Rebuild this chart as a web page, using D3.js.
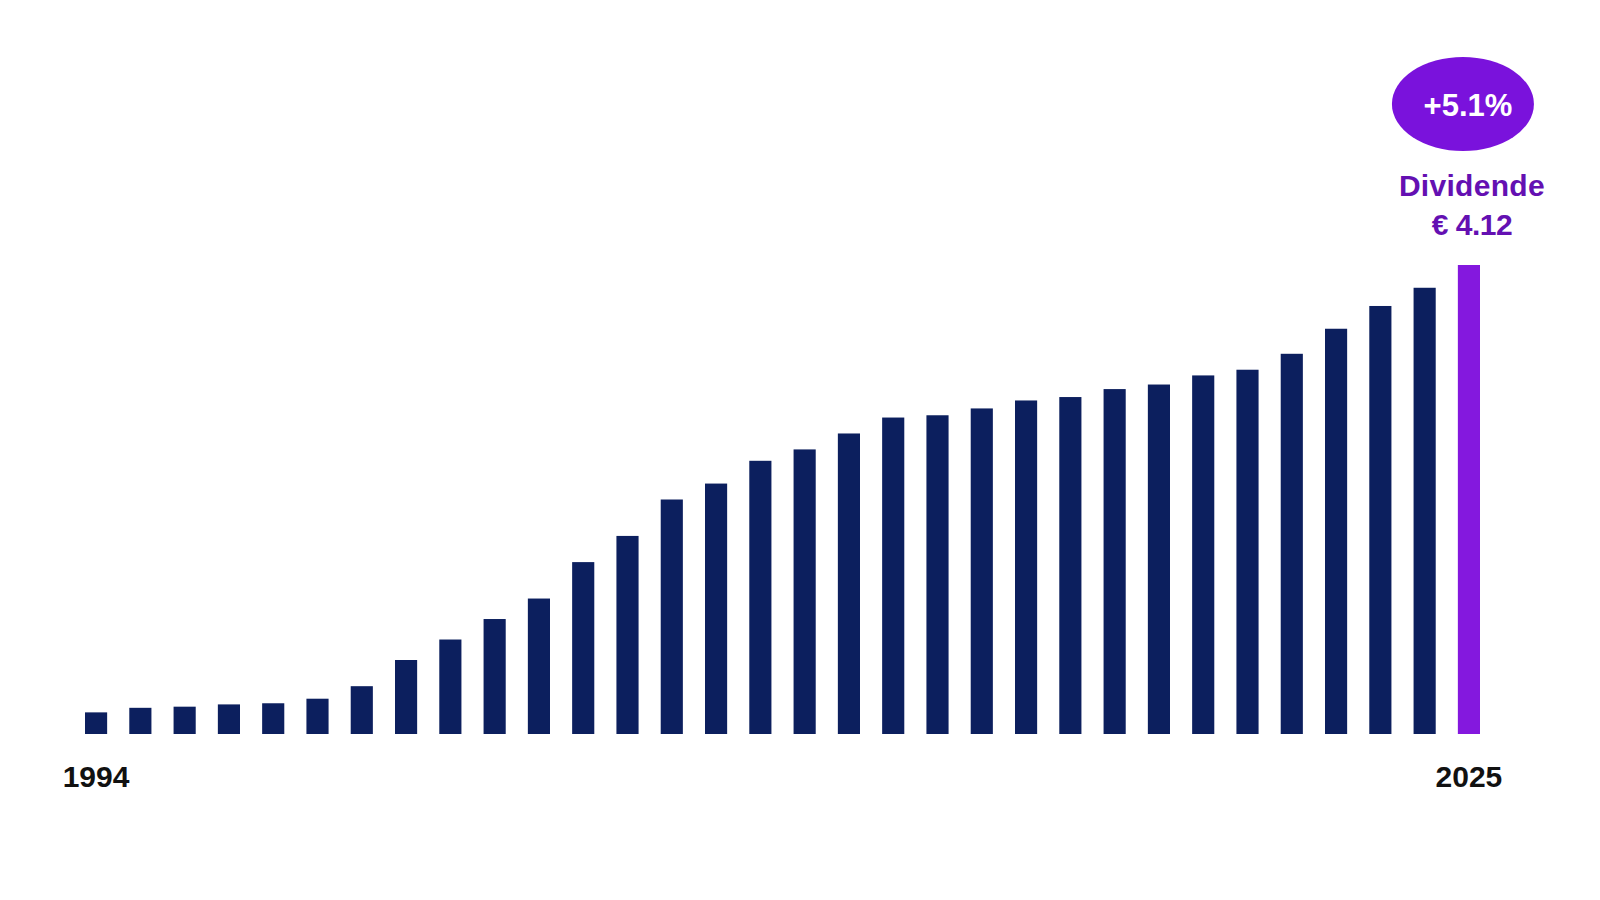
<!DOCTYPE html>
<html>
<head>
<meta charset="utf-8">
<script src="https://cdn.jsdelivr.net/npm/d3@7"></script>
<style>
  body { margin: 0; background: #fff; }
  svg { display: block; font-family: "Liberation Sans", Arial, sans-serif; }
</style>
</head>
<body>
<div id="chart"></div>
<script>
// dividend per share, euro
const years = d3.range(1994, 2026);
const dividends = [
  0.19, 0.23, 0.24, 0.26, 0.27, 0.31, 0.42, 0.65, 0.83, 1.01,
  1.19, 1.51, 1.74, 2.06, 2.20, 2.40, 2.50, 2.64, 2.78, 2.80,
  2.86, 2.93, 2.96, 3.03, 3.07, 3.15, 3.20, 3.34, 3.56, 3.76,
  3.92, 4.12
];
const tickLabels = ["1994", "2025"];
const growthLabel = "+5.1%";
const captionLines = ["Dividende", "€ 4.12"];

const width = 1600, height = 900;
const baseline = 734;

const data = years.map((y, i) => ({ year: String(y), value: dividends[i] }));
const last = data[data.length - 1];

const x = d3.scaleBand()
  .domain(data.map(d => d.year))
  .range([85, 1480])
  .paddingInner(0.5)
  .paddingOuter(0);

const y = d3.scaleLinear()
  .domain([0, 4.12])
  .range([baseline, 265]);

const svg = d3.select("#chart")
  .append("svg")
  .attr("width", width)
  .attr("height", height)
  .attr("viewBox", [0, 0, width, height]);

// bars
svg.append("g")
  .selectAll("rect")
  .data(data)
  .join("rect")
  .attr("x", d => x(d.year))
  .attr("y", d => y(d.value))
  .attr("width", x.bandwidth())
  .attr("height", d => y(0) - y(d.value))
  .attr("fill", d => d === last ? "#8418de" : "#0c1f5e");

// first / last year labels
svg.append("g")
  .selectAll("text")
  .data(tickLabels)
  .join("text")
  .attr("x", d => x(d) + x.bandwidth() / 2)
  .attr("y", 787)
  .attr("text-anchor", "middle")
  .attr("font-size", 30)
  .attr("font-weight", "bold")
  .attr("fill", "#111")
  .text(d => d);

// annotation over the last bar
const cx = x(last.year) + x.bandwidth() / 2;

svg.append("ellipse")
  .attr("cx", cx - 6)
  .attr("cy", 104)
  .attr("rx", 71)
  .attr("ry", 47)
  .attr("fill", "#7a12dc");

svg.append("text")
  .attr("x", cx - 1)
  .attr("y", 116)
  .attr("text-anchor", "middle")
  .attr("font-size", 31)
  .attr("font-weight", "bold")
  .attr("fill", "#fff")
  .text(growthLabel);

svg.append("g")
  .selectAll("text")
  .data(captionLines)
  .join("text")
  .attr("x", cx + 3)
  .attr("y", (d, i) => 196 + i * 39)
  .attr("text-anchor", "middle")
  .attr("font-size", 30)
  .attr("font-weight", "bold")
  .attr("letter-spacing", (d, i) => i === 1 ? "-0.5px" : "0.3px")
  .attr("fill", "#6410b2")
  .text(d => d);
</script>
</body>
</html>
